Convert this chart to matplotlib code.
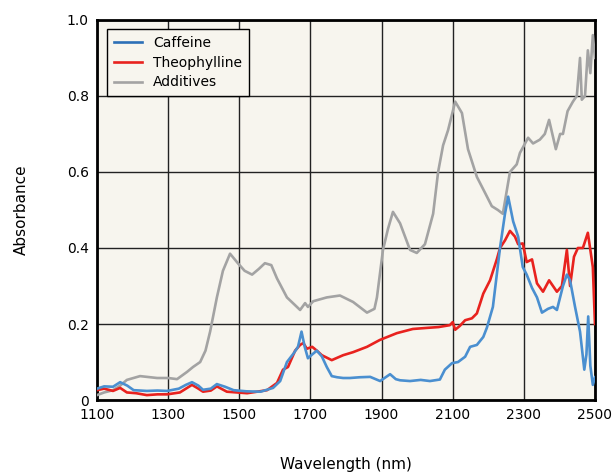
import numpy as np
import matplotlib.pyplot as plt

# wavelength (nm) / absorbance
caf_x = [1100, 1120, 1145, 1165, 1185, 1203, 1240, 1270, 1297, 1330, 1350, 1367, 1385, 1398, 1420, 1437, 1460, 1484, 1520, 1560, 1595, 1615, 1634, 1653, 1665, 1675, 1684, 1693, 1705, 1718, 1732, 1746, 1760, 1775, 1792, 1811, 1839, 1868, 1896, 1924, 1940, 1952, 1980, 2010, 2036, 2064, 2078, 2098, 2115, 2135, 2149, 2168, 2186, 2196, 2213, 2233, 2247, 2256, 2270, 2284, 2297, 2308, 2323, 2337, 2351, 2368, 2382, 2393, 2410, 2421, 2430, 2444, 2458, 2470, 2476, 2481, 2487, 2494, 2500]
caf_y = [0.030, 0.036, 0.035, 0.047, 0.038, 0.026, 0.024, 0.025, 0.024, 0.030, 0.040, 0.047, 0.038, 0.027, 0.030, 0.042, 0.035, 0.026, 0.023, 0.022, 0.032, 0.050, 0.100, 0.123, 0.140, 0.180, 0.140, 0.110, 0.120, 0.130, 0.115, 0.087, 0.063, 0.060, 0.058, 0.058, 0.060, 0.061, 0.050, 0.068, 0.055, 0.052, 0.050, 0.053, 0.050, 0.054, 0.080, 0.097, 0.100, 0.114, 0.140, 0.145, 0.166, 0.190, 0.245, 0.400, 0.490, 0.535, 0.470, 0.430, 0.350, 0.330, 0.295, 0.270, 0.230, 0.240, 0.245, 0.237, 0.300, 0.330, 0.315, 0.245, 0.180, 0.080, 0.120, 0.220, 0.090, 0.040, 0.060]

theo_x = [1100, 1120, 1145, 1165, 1184, 1210, 1240, 1270, 1297, 1333, 1350, 1367, 1385, 1398, 1420, 1437, 1465, 1522, 1578, 1606, 1623, 1637, 1657, 1671, 1680, 1690, 1705, 1718, 1732, 1760, 1792, 1820, 1859, 1895, 1943, 1988, 2030, 2060, 2092, 2100, 2107, 2120, 2135, 2154, 2168, 2186, 2205, 2224, 2233, 2247, 2261, 2275, 2284, 2297, 2308, 2323, 2337, 2354, 2371, 2393, 2407, 2421, 2430, 2441, 2452, 2466, 2480, 2494, 2500]
theo_y = [0.026, 0.030, 0.024, 0.032, 0.020, 0.018, 0.013, 0.015, 0.015, 0.020, 0.030, 0.040, 0.030, 0.022, 0.025, 0.036, 0.022, 0.018, 0.026, 0.045, 0.080, 0.087, 0.130, 0.145, 0.150, 0.135, 0.140, 0.130, 0.118, 0.105, 0.118, 0.126, 0.140, 0.158, 0.176, 0.187, 0.190, 0.192, 0.197, 0.205, 0.185, 0.195, 0.210, 0.215, 0.228, 0.280, 0.315, 0.370, 0.400, 0.420, 0.445, 0.430, 0.410, 0.412, 0.363, 0.370, 0.307, 0.285, 0.315, 0.285, 0.300, 0.395, 0.300, 0.377, 0.400, 0.400, 0.440, 0.350, 0.200]

add_x = [1100, 1120, 1145, 1165, 1184, 1221, 1269, 1300, 1325, 1353, 1370, 1390, 1405, 1418, 1437, 1454, 1474, 1496, 1515, 1536, 1555, 1572, 1590, 1606, 1634, 1671, 1685, 1693, 1708, 1746, 1783, 1820, 1859, 1880, 1887, 1904, 1918, 1932, 1952, 1980, 1999, 2022, 2045, 2059, 2073, 2087, 2107, 2126, 2143, 2168, 2191, 2210, 2227, 2241, 2261, 2280, 2289, 2312, 2326, 2345, 2359, 2371, 2390, 2402, 2410, 2423, 2438, 2449, 2458, 2463, 2472, 2480, 2487, 2494, 2500]
add_y = [0.013, 0.020, 0.026, 0.038, 0.053, 0.063, 0.058, 0.058, 0.055, 0.074, 0.087, 0.100, 0.130, 0.180, 0.270, 0.340, 0.385, 0.360, 0.340, 0.330, 0.345, 0.360, 0.355, 0.320, 0.270, 0.237, 0.255, 0.245, 0.260, 0.270, 0.275, 0.258, 0.230, 0.240, 0.270, 0.395, 0.450, 0.495, 0.465, 0.395, 0.387, 0.410, 0.490, 0.600, 0.670, 0.710, 0.785, 0.755, 0.660, 0.587, 0.545, 0.510, 0.500, 0.490, 0.600, 0.620, 0.650, 0.690, 0.675, 0.685, 0.700, 0.737, 0.660, 0.700, 0.700, 0.760, 0.785, 0.800, 0.900, 0.790, 0.800, 0.920, 0.860, 0.960, 0.900]

fig = plt.figure(figsize=(6.14, 4.74), dpi=100)
ax = fig.add_axes([0.158, 0.156, 0.811, 0.802])
ax.set_facecolor('#f7f5ee')

ax.plot(add_x, add_y, color='#a3a3a3', lw=1.9, label='Additives', zorder=3)
ax.plot(theo_x, theo_y, color='#e8221e', lw=1.9, label='Theophylline', zorder=4)
ax.plot(caf_x, caf_y, color='#4a8fd0', lw=1.9, label='Caffeine', zorder=5)

ax.set_xlim(1100, 2500)
ax.set_ylim(0, 1.0)
ax.set_xticks(np.arange(1100, 2501, 200))
ax.set_yticks([0, 0.2, 0.4, 0.6, 0.8, 1.0])
ax.set_yticklabels(['0', '0.2', '0.4', '0.6', '0.8', '1.0'])
ax.tick_params(length=0, labelsize=10, pad=6)
ax.grid(True, color='#222222', lw=1.0, zorder=1)

for s in ax.spines.values():
    s.set_linewidth(2)
    s.set_color('black')

ax.set_xlabel('Wavelength (nm)', fontsize=11, labelpad=25)
ax.set_ylabel('Absorbance', fontsize=11, labelpad=27)

h, l = ax.get_legend_handles_labels()
order = [2, 1, 0]
leg = ax.legend([h[i] for i in order], [l[i] for i in order], loc='upper left',
                bbox_to_anchor=(0.021, 0.975), fontsize=10, fancybox=False,
                framealpha=1, facecolor='#f7f5ee', edgecolor='black',
                handlelength=2.0, labelspacing=0.4, borderpad=0.5,
                borderaxespad=0)
leg.get_frame().set_linewidth(1)
leg.legend_handles[0].set_color('#2c6fb7')

plt.savefig('out.png', dpi=100)
